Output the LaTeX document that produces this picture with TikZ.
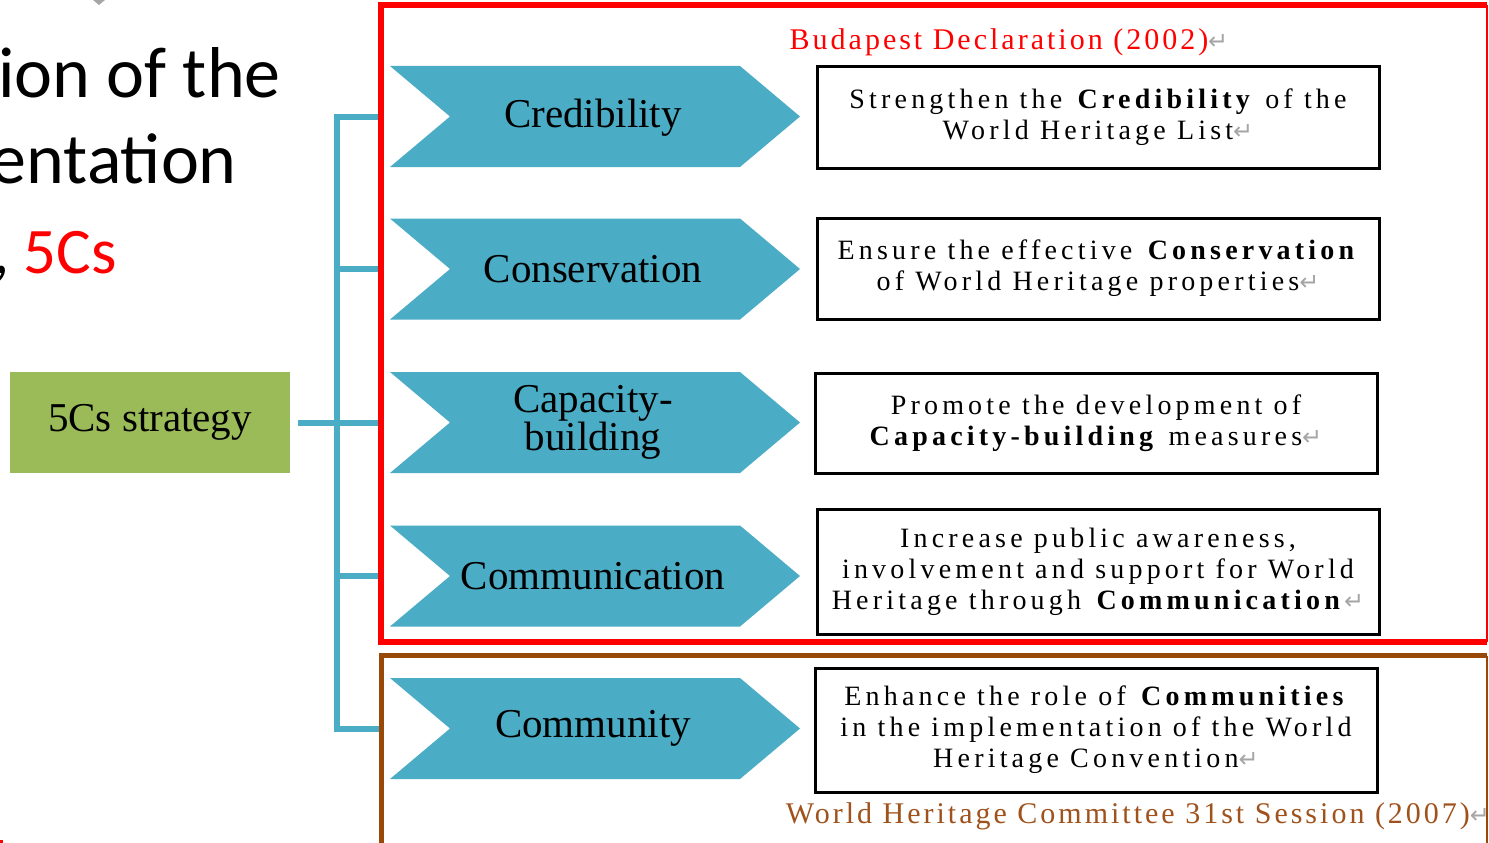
\documentclass[tikz,border=0pt]{standalone}
\usepackage{fontspec}
\setmainfont{Liberation Serif}
\newfontfamily\wordfont[LetterSpace=15]{Liberation Serif}
\newfontfamily\lblfont[LetterSpace=10]{Liberation Serif}
\newfontfamily\calfont{Carlito}
\newfontfamily\symfont{DejaVu Sans}
\definecolor{chevblue}{HTML}{4BACC6}
\definecolor{stratgreen}{HTML}{9BBB59}
\definecolor{boxred}{HTML}{FF0000}
\definecolor{boxbrown}{HTML}{984807}
\definecolor{labelbrown}{HTML}{A0521C}
\newcommand\pmk{{\symfont\fontsize{24}{24}\selectfont\color{gray!70}↵}}
\tikzset{
  conn/.style={draw=chevblue, line width=6pt, line join=miter},
  chevfill/.style={fill=chevblue, draw=none},
  chevtext/.style={font=\fontsize{41}{36}\selectfont, align=center, inner sep=0pt, text=black},
  tbox/.style={draw=black, line width=3pt, minimum width=562pt, inner sep=0pt, align=center,
     font=\wordfont\fontsize{28}{31}\selectfont},
  heading/.style={anchor=base east, inner sep=0pt, font=\calfont\fontsize{72}{72}\selectfont},
  lbl/.style={inner sep=0pt, font=\lblfont\fontsize{30}{30}\selectfont}
}
\begin{document}
\begin{tikzpicture}[x=1pt,y=-1pt]
\useasboundingbox (0,0) rectangle (1489,843);
\clip (0,0) rectangle (1489,843);
\fill[white] (0,0) rectangle (1489,843);

% heading fragments
\node[heading] (h1) at (281,97) {ion of the};
\node[heading] (h2) at (237,183) {entation};
\node[heading, font=\calfont\fontsize{65}{65}\selectfont, text=boxred] (h3) at (117,273) {5Cs};
\node[anchor=base east, inner sep=0pt, font=\calfont\fontsize{65}{65}\selectfont] (h3c) at (10,273) {,};
\fill[gray!70] (93,0) -- (105,0) -- (99,5) -- cycle;
\fill[boxred] (0,840) rectangle (3,843);

% strategy box
\node[fill=stratgreen, minimum width=280pt, minimum height=101pt, inner sep=0pt,
      font=\fontsize{41}{41}\selectfont] (g) at (150,422.5) {5Cs strategy};

% connectors
\coordinate (hub) at (337,422.5);
\foreach \i/\y in {1/116.5,2/269,3/422.5,4/576,5/728.5}{
  \coordinate (b\i) at (383,\y);
  \coordinate (t\i) at (337,\y);
}
\draw[conn] ([xshift=8pt]g.east) -- (hub);
\draw[conn] (b1) -- (t1) -- (t5) -- (b5);
\draw[conn] (t2) -- (b2);
\draw[conn] (t3) -- (b3);
\draw[conn] (t4) -- (b4);

% frames
\draw[boxred, line width=6pt, line join=miter] (1487,5) -| (381,642) -- (1487,642);
\draw[boxred, line width=2pt] (1487,5) -- (1487,642);
\draw[boxbrown, line width=5pt, line join=miter] (1487,655.5) -| (381,850);
\draw[boxbrown, line width=2pt] (1487,655.5) -- (1487,850);

% chevrons
\foreach \y in {116.5,269,422.5,576,728.5}{
  \fill[chevfill] (390,\y-50.5) -- (740,\y-50.5) -- (800,\y) -- (740,\y+50.5)
      -- (390,\y+50.5) -- (450,\y) -- cycle;
}
\node[chevtext] (c1) at (593,117.5) {Credibility};
\node[chevtext] (c2) at (593,269) {Conservation};
\node[chevtext] (c3) at (593,422.5) {Capacity-\\building};
\node[chevtext] (c4) at (593,576) {Communication};
\node[chevtext] (c5) at (593,728.5) {Community};

% description boxes
\node[tbox, minimum height=101pt] (d1) at (1098,117.5)
  {Strengthen the \textbf{Credibility} of the\\World Heritage List\pmk};
\node[tbox, minimum height=101pt] (d2) at (1098,268.5)
  {Ensure the effective \textbf{Conservation}\\of World Heritage properties\pmk};
\node[tbox, minimum height=100pt] (d3) at (1096,423)
  {Promote the development of\\\textbf{Capacity-building} measures\pmk};
\node[tbox, minimum height=125pt] (d4) at (1098,571.5)
  {Increase public awareness,\\involvement and support for World\\Heritage through \textbf{Communication}\pmk};
\node[tbox, minimum height=124pt] (d5) at (1096,730)
  {Enhance the role of \textbf{Communities}\\in the implementation of the World\\Heritage Convention\pmk};

% source labels
\node[lbl, text=boxred] (l1) at (1009,42) {Budapest Declaration (2002)\pmk};
\node[lbl, text=labelbrown] (l2) at (1138,816) {World Heritage Committee 31st Session (2007)\pmk};
\end{tikzpicture}
\end{document}
